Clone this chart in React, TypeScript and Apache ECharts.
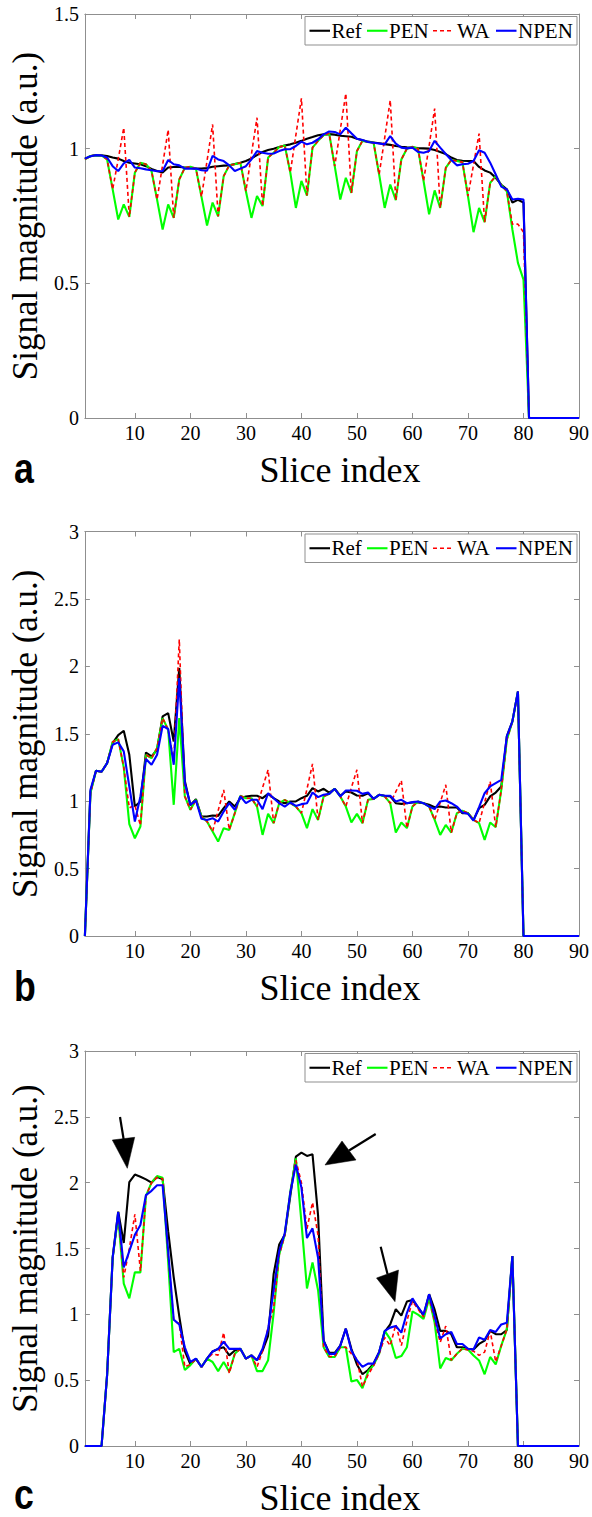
import React, { useEffect, useRef } from "react";
import * as echarts from "echarts";

// ---------- data ----------
const seriesNames = ["Ref", "PEN", "WA", "NPEN"];
const xTickValues = [10, 20, 30, 40, 50, 60, 70, 80, 90];
const panelLetters = ["a", "b", "c"];
const yMaxes = [1.5, 3, 3];

// Panel a
const refA = [
  0.963, 0.972, 0.976, 0.975, 0.973, 0.967, 0.963, 0.954, 0.948, 0.945,
  0.942, 0.935, 0.925, 0.917, 0.912, 0.93, 0.932, 0.932, 0.93, 0.928,
  0.926, 0.926, 0.928, 0.933, 0.935, 0.937, 0.938, 0.943, 0.948, 0.954,
  0.964, 0.976, 0.988, 0.995, 1.0, 1.006, 1.012, 1.016, 1.022, 1.029,
  1.037, 1.043, 1.05, 1.053, 1.054, 1.052, 1.048, 1.046, 1.044, 1.037,
  1.031, 1.026, 1.023, 1.02, 1.017, 1.014, 1.01, 1.007, 1.005, 1.004,
  1.002, 1.001, 1.0, 0.995, 0.988, 0.98, 0.967, 0.958, 0.955, 0.954,
  0.954, 0.932, 0.919, 0.911, 0.892, 0.866, 0.849, 0.8, 0.81, 0.8,
  0, 0, 0, 0, 0, 0, 0, 0, 0, 0,
];
const penA = [
  0.96, 0.973, 0.976, 0.975, 0.96, 0.849, 0.737, 0.793, 0.747, 0.911,
  0.948, 0.942, 0.917, 0.811, 0.7, 0.793, 0.743, 0.886, 0.929, 0.933,
  0.926, 0.821, 0.715, 0.8, 0.749, 0.898, 0.938, 0.942, 0.948, 0.842,
  0.743, 0.824, 0.787, 0.967, 0.985, 1.006, 1.012, 0.911, 0.78, 0.88,
  0.826, 1.004, 1.029, 1.05, 1.057, 0.935, 0.811, 0.892, 0.836, 0.991,
  1.029, 1.025, 1.022, 0.904, 0.78, 0.867, 0.809, 0.96, 1.0, 1.007,
  1.0, 0.88, 0.756, 0.845, 0.78, 0.929, 0.958, 0.954, 0.95, 0.824,
  0.69, 0.78, 0.727, 0.873, 0.898, 0.864, 0.842, 0.7, 0.576, 0.514,
  0, 0, 0, 0, 0, 0, 0, 0, 0, 0,
];
const waA = [
  0.96, 0.973, 0.976, 0.975, 0.96, 0.849, 0.96, 1.078, 0.747, 0.911,
  0.948, 0.942, 0.917, 0.811, 0.94, 1.07, 0.743, 0.886, 0.929, 0.933,
  0.926, 0.821, 0.955, 1.09, 0.749, 0.898, 0.938, 0.942, 0.948, 0.842,
  0.98, 1.115, 0.787, 0.967, 0.985, 1.006, 1.012, 0.911, 1.05, 1.187,
  0.826, 1.004, 1.029, 1.05, 1.057, 0.935, 1.07, 1.205, 0.836, 0.991,
  1.029, 1.025, 1.022, 0.904, 1.04, 1.18, 0.809, 0.96, 1.0, 1.007,
  1.0, 0.88, 1.01, 1.149, 0.78, 0.929, 0.958, 0.954, 0.95, 0.824,
  0.94, 1.056, 0.727, 0.873, 0.898, 0.864, 0.842, 0.72, 0.72, 0.69,
  0, 0, 0, 0, 0, 0, 0, 0, 0, 0,
];
const npenA = [
  0.963, 0.972, 0.976, 0.975, 0.967, 0.935, 0.917, 0.945, 0.958, 0.93,
  0.927, 0.923, 0.92, 0.916, 0.917, 0.958, 0.942, 0.938, 0.926, 0.926,
  0.926, 0.92, 0.918, 0.973, 0.96, 0.954, 0.938, 0.917, 0.926, 0.935,
  0.96, 0.991, 0.985, 0.981, 0.982, 0.991, 0.998, 0.998, 1.01, 1.026,
  1.016, 1.022, 1.035, 1.053, 1.064, 1.062, 1.053, 1.078, 1.057, 1.037,
  1.032, 1.025, 1.022, 1.019, 1.016, 1.047, 1.019, 1.004, 1.001, 1.004,
  0.988, 0.985, 0.991, 1.029, 1.004, 0.98, 0.958, 0.938, 0.942, 0.944,
  0.954, 0.994, 0.985, 0.948, 0.904, 0.859, 0.849, 0.811, 0.814, 0.811,
  0, 0, 0, 0, 0, 0, 0, 0, 0, 0,
];

// Panel b
const refB = [
  0, 1.07, 1.225, 1.218, 1.282, 1.43, 1.49, 1.522, 1.344, 0.96,
  0.998, 1.361, 1.332, 1.381, 1.629, 1.653, 1.443, 1.988, 1.15, 0.97,
  1.015, 0.886, 0.886, 0.894, 0.891, 0.948, 0.998, 0.96, 1.022, 1.035,
  1.04, 1.04, 1.022, 1.054, 1.022, 0.998, 0.985, 0.998, 0.998, 1.022,
  1.04, 1.097, 1.072, 1.092, 1.064, 1.092, 1.04, 1.072, 1.064, 1.042,
  1.04, 1.059, 1.017, 1.047, 1.04, 1.035, 0.985, 0.98, 0.985, 0.99,
  0.99, 0.985, 0.973, 0.955, 0.96, 0.953, 0.953, 0.953, 0.911, 0.911,
  0.861, 0.948, 0.973, 1.035, 1.064, 1.109, 1.48, 1.592, 1.814, 0,
  0, 0, 0, 0, 0, 0, 0, 0, 0, 0,
];
const penB = [
  0, 1.06, 1.225, 1.218, 1.282, 1.44, 1.46, 1.25, 0.83, 0.725,
  0.812, 1.344, 1.319, 1.394, 1.616, 1.53, 0.973, 1.616, 1.035, 0.936,
  1.01, 0.886, 0.849, 0.775, 0.7, 0.8, 0.787, 0.911, 1.04, 1.022,
  1.022, 0.96, 0.75, 0.906, 0.837, 0.985, 1.01, 0.985, 0.96, 0.911,
  0.8, 0.941, 0.861, 1.035, 1.054, 1.092, 1.035, 0.96, 0.842, 0.906,
  0.837, 1.01, 1.017, 1.047, 1.035, 0.985, 0.767, 0.842, 0.8, 0.96,
  0.998, 0.985, 0.96, 0.861, 0.75, 0.824, 0.767, 0.911, 0.93, 0.911,
  0.861, 0.837, 0.713, 0.842, 0.807, 1.084, 1.455, 1.59, 1.81, 0,
  0, 0, 0, 0, 0, 0, 0, 0, 0, 0,
];
const waB = [
  0, 1.06, 1.225, 1.218, 1.282, 1.44, 1.46, 1.25, 0.95, 0.97,
  0.82, 1.344, 1.319, 1.394, 1.616, 1.53, 1.3, 2.2, 1.035, 0.936,
  1.01, 0.886, 0.849, 0.775, 0.93, 1.084, 0.787, 0.911, 1.04, 1.022,
  1.022, 0.96, 1.1, 1.233, 0.837, 0.985, 1.01, 0.985, 0.96, 0.911,
  1.09, 1.277, 0.861, 1.035, 1.054, 1.092, 1.035, 0.96, 1.1, 1.233,
  0.837, 1.01, 1.017, 1.047, 1.035, 0.985, 1.07, 1.153, 0.8, 0.96,
  0.998, 0.985, 0.96, 0.861, 0.99, 1.121, 0.767, 0.911, 0.93, 0.911,
  0.861, 0.837, 0.99, 1.146, 0.807, 1.084, 1.455, 1.59, 1.81, 0,
  0, 0, 0, 0, 0, 0, 0, 0, 0, 0,
];
const npenB = [
  0, 1.084, 1.225, 1.218, 1.282, 1.418, 1.436, 1.369, 1.109, 0.849,
  1.035, 1.312, 1.27, 1.344, 1.559, 1.535, 1.27, 1.913, 1.134, 0.973,
  1.005, 0.869, 0.861, 0.874, 0.849, 0.923, 0.985, 0.936, 1.035, 0.985,
  1.01, 1.01, 0.941, 1.059, 1.022, 0.985, 0.96, 0.99, 0.965, 0.978,
  0.985, 1.064, 1.03, 1.047, 1.054, 1.092, 1.035, 1.079, 1.079, 1.077,
  1.054, 1.064, 1.017, 1.047, 1.04, 1.04, 0.998, 1.01, 0.985, 0.993,
  0.998, 0.985, 0.96, 0.941, 0.998, 1.005, 0.985, 0.96, 0.916, 0.906,
  0.856, 0.955, 1.059, 1.109, 1.134, 1.158, 1.48, 1.592, 1.814, 0,
  0, 0, 0, 0, 0, 0, 0, 0, 0, 0,
];

// Panel c
const refC = [
  0, 0, 0, 0, 0.54, 1.43, 1.78, 1.542, 2.005, 2.062,
  2.045, 2.025, 2.0, 2.045, 2.025, 1.63, 1.28, 0.985, 0.72, 0.62,
  0.663, 0.6, 0.663, 0.718, 0.738, 0.75, 0.688, 0.725, 0.738, 0.663,
  0.688, 0.651, 0.725, 0.837, 1.307, 1.53, 1.604, 1.9, 2.198, 2.228,
  2.203, 2.215, 1.752, 0.8, 0.708, 0.708, 0.762, 0.891, 0.738, 0.619,
  0.545, 0.577, 0.626, 0.713, 0.866, 0.923, 1.04, 0.99, 1.097, 1.109,
  1.054, 0.99, 1.153, 1.035, 0.874, 0.874, 0.849, 0.75, 0.75, 0.738,
  0.733, 0.775, 0.8, 0.874, 0.849, 0.849, 0.881, 1.443, 0, 0,
  0, 0, 0, 0, 0, 0, 0, 0, 0, 0,
];
const penC = [
  0, 0, 0, 0, 0.54, 1.43, 1.74, 1.233, 1.121, 1.319,
  1.319, 1.9, 2.0, 2.05, 2.037, 1.4, 0.713, 0.738, 0.577, 0.614,
  0.663, 0.6, 0.663, 0.638, 0.569, 0.638, 0.564, 0.7, 0.738, 0.663,
  0.688, 0.569, 0.569, 0.651, 1.01, 1.455, 1.604, 1.93, 2.185, 1.7,
  1.196, 1.394, 1.183, 0.75, 0.676, 0.676, 0.75, 0.75, 0.49, 0.502,
  0.44, 0.564, 0.614, 0.7, 0.874, 0.812, 0.668, 0.683, 0.75, 1.022,
  0.998, 0.965, 1.121, 0.936, 0.589, 0.668, 0.651, 0.7, 0.738, 0.733,
  0.688, 0.65, 0.545, 0.676, 0.619, 0.762, 0.886, 1.443, 0, 0,
  0, 0, 0, 0, 0, 0, 0, 0, 0, 0,
];
const waC = [
  0, 0, 0, 0, 0.54, 1.43, 1.75, 1.28, 1.5, 1.76,
  1.33, 1.9, 2.0, 2.04, 2.03, 1.45, 0.95, 0.93, 0.6, 0.62,
  0.66, 0.6, 0.663, 0.7, 0.69, 0.861, 0.552, 0.7, 0.738, 0.663,
  0.688, 0.6, 0.72, 0.9, 1.05, 1.45, 1.6, 1.93, 2.17, 2.0,
  1.65, 1.85, 1.6, 0.75, 0.68, 0.68, 0.75, 0.75, 0.7, 0.66,
  0.45, 0.54, 0.61, 0.7, 0.824, 0.762, 0.923, 0.762, 0.95, 1.1,
  1.04, 0.98, 1.13, 0.95, 0.787, 0.911, 0.651, 0.7, 0.74, 0.73,
  0.72, 0.688, 0.713, 0.874, 0.639, 0.762, 0.886, 1.443, 0, 0,
  0, 0, 0, 0, 0, 0, 0, 0, 0, 0,
];
const npenC = [
  0, 0, 0, 0, 0.54, 1.43, 1.777, 1.356, 1.48, 1.604,
  1.678, 1.906, 1.938, 1.98, 1.98, 1.48, 0.96, 0.923, 0.75, 0.639,
  0.663, 0.6, 0.663, 0.718, 0.738, 0.792, 0.738, 0.738, 0.738, 0.663,
  0.688, 0.651, 0.738, 0.886, 1.183, 1.48, 1.616, 1.925, 2.136, 1.963,
  1.579, 1.653, 1.43, 0.8, 0.7, 0.7, 0.762, 0.891, 0.725, 0.651,
  0.601, 0.626, 0.626, 0.713, 0.874, 0.899, 0.911, 0.861, 1.01, 1.121,
  1.054, 0.998, 1.153, 0.985, 0.817, 0.849, 0.866, 0.775, 0.775, 0.738,
  0.733, 0.824, 0.807, 0.881, 0.866, 0.923, 0.936, 1.443, 0, 0,
  0, 0, 0, 0, 0, 0, 0, 0, 0, 0,
];

const panelData = [
  [refA, penA, waA, npenA],
  [refB, penB, waB, npenB],
  [refC, penC, waC, npenC],
];

// ---------- layout & style ----------
const SERIF = '"Liberation Serif", "Times New Roman", Times, serif';
const SANS = '"Liberation Sans", Arial, Helvetica, sans-serif';
const AXIS_GRAY = "#8f8f8f";
const PLOT_LEFT = 84.5;
const PLOT_WIDTH = 495;
const panelLayout = [
  { top: 14, height: 404, letterY: 468 },
  { top: 531.5, height: 404.5, letterY: 986 },
  { top: 1051, height: 405, letterY: 1494 },
];
const lineStyles = [
  { color: "#000000", width: 2.1, type: "solid" as any },
  { color: "#00ff00", width: 2.1, type: "solid" as any },
  { color: "#ff0000", width: 1.6, type: [4, 3] as any },
  { color: "#0000ff", width: 2.1, type: "solid" as any },
];
// legend layout: line start x, text x
const legendItems = [
  { lx: 309.5, tx: 331.5 },
  { lx: 367, tx: 389 },
  { lx: 433, tx: 457 },
  { lx: 496, tx: 518 },
];

export default function App() {
  const ref = useRef<HTMLDivElement>(null);

  useEffect(() => {
    if (!ref.current) return;
    const chart = echarts.init(ref.current, null, { renderer: "svg" });

    const grid: any[] = [];
    const xAxis: any[] = [];
    const yAxis: any[] = [];
    const series: any[] = [];
    const graphic: any[] = [];

    panelLayout.forEach((p, i) => {
      grid.push({ left: PLOT_LEFT, width: PLOT_WIDTH, top: p.top, height: p.height });

      const axisLine = { show: true, onZero: false, lineStyle: { color: AXIS_GRAY, width: 1 } };
      const tickStyle = { color: AXIS_GRAY, width: 1 };

      xAxis.push({
        type: "value",
        gridIndex: i,
        min: 1,
        max: 90,
        position: "bottom",
        axisLine,
        axisTick: { show: true, inside: true, length: 5, customValues: xTickValues, lineStyle: tickStyle },
        axisLabel: {
          customValues: xTickValues,
          color: "#000",
          fontFamily: SERIF,
          fontSize: 20,
          margin: 5,
        },
        splitLine: { show: false },
        name: "Slice index",
        nameLocation: "middle",
        nameGap: 34,
        nameTextStyle: { color: "#000", fontFamily: SERIF, fontSize: 36, padding: [0, 0, 0, 16] },
      });
      xAxis.push({
        type: "value",
        gridIndex: i,
        min: 1,
        max: 90,
        position: "top",
        axisLine,
        axisTick: { show: true, inside: true, length: 5, customValues: xTickValues, lineStyle: tickStyle },
        axisLabel: { show: false },
        splitLine: { show: false },
      });

      yAxis.push({
        type: "value",
        gridIndex: i,
        min: 0,
        max: yMaxes[i],
        interval: 0.5,
        position: "left",
        axisLine,
        axisTick: { show: true, inside: true, length: 5, lineStyle: tickStyle },
        axisLabel: { color: "#000", fontFamily: SERIF, fontSize: 20, margin: 6 },
        splitLine: { show: false },
        name: "Signal magnitude (a.u.)",
        nameLocation: "middle",
        nameGap: 36,
        nameRotate: 90,
        nameTextStyle: { color: "#000", fontFamily: SERIF, fontSize: 35 },
      });
      yAxis.push({
        type: "value",
        gridIndex: i,
        min: 0,
        max: yMaxes[i],
        interval: 0.5,
        position: "right",
        axisLine,
        axisTick: { show: true, inside: true, length: 5, lineStyle: tickStyle },
        axisLabel: { show: false },
        splitLine: { show: false },
      });

      panelData[i].forEach((values, s) => {
        const st = lineStyles[s];
        series.push({
          type: "line",
          name: seriesNames[s],
          xAxisIndex: 2 * i,
          yAxisIndex: 2 * i,
          data: values.map((v, k) => [k + 1, v]),
          symbol: "none",
          silent: true,
          lineStyle: { color: st.color, width: st.width, type: st.type },
          itemStyle: { color: st.color },
        });
      });

      // legend box (MATLAB style)
      const lt = p.top + 2.5;
      const lh = 28.5;
      const cy = lt + lh / 2;
      graphic.push({
        type: "rect",
        shape: { x: 305, y: lt, width: 272, height: lh },
        style: { fill: "#ffffff", stroke: AXIS_GRAY, lineWidth: 1 },
        z: 100,
      });
      legendItems.forEach((it, s) => {
        const st = lineStyles[s];
        graphic.push({
          type: "line",
          shape: { x1: it.lx, y1: cy, x2: it.lx + 20.5, y2: cy },
          style: {
            stroke: st.color,
            lineWidth: st.width,
            lineDash: Array.isArray(st.type) ? st.type : null,
          },
          z: 101,
        });
        graphic.push({
          type: "text",
          x: it.tx,
          y: cy,
          style: {
            text: seriesNames[s],
            fill: "#000",
            fontFamily: SERIF,
            fontSize: 21,
            textAlign: "left",
            align: "left",
            textVerticalAlign: "middle",
            verticalAlign: "middle",
          },
          z: 101,
        });
      });

      // panel letter
      graphic.push({
        type: "text",
        x: 14,
        y: p.letterY,
        scaleX: 0.85,
        style: {
          text: panelLetters[i],
          fill: "#000",
          fontFamily: SANS,
          fontWeight: "bold",
          fontSize: 42,
          textAlign: "left",
          align: "left",
          textVerticalAlign: "middle",
          verticalAlign: "middle",
        },
      });
    });

    // arrows in panel c
    const arrows = [
      { tail: [120, 1117], base: [123.6, 1139], head: [[112.3, 1140], [134.7, 1137.3], [127.3, 1168.3]] },
      { tail: [375.7, 1134], base: [349, 1150.5], head: [[342, 1141], [356, 1160], [325, 1165]] },
      { tail: [380.7, 1246.7], base: [387.5, 1274], head: [[376.5, 1278], [398.5, 1270], [395, 1301.7]] },
    ];
    arrows.forEach((a) => {
      graphic.push({
        type: "polyline",
        shape: { points: [a.tail, a.base] },
        style: { stroke: "#000", lineWidth: 2.2, fill: null },
        z: 50,
      });
      graphic.push({
        type: "polygon",
        shape: { points: a.head },
        style: { fill: "#000", stroke: "#000", lineWidth: 0.5 },
        z: 50,
      });
    });

    chart.setOption({
      animation: false,
      backgroundColor: "#ffffff",
      grid,
      xAxis,
      yAxis,
      series,
      graphic,
    });

    return () => chart.dispose();
  }, []);

  return (
    <div
      ref={ref}
      style={{ position: "absolute", left: 0, top: 0, width: 592, height: 1517, background: "#fff" }}
    />
  );
}
